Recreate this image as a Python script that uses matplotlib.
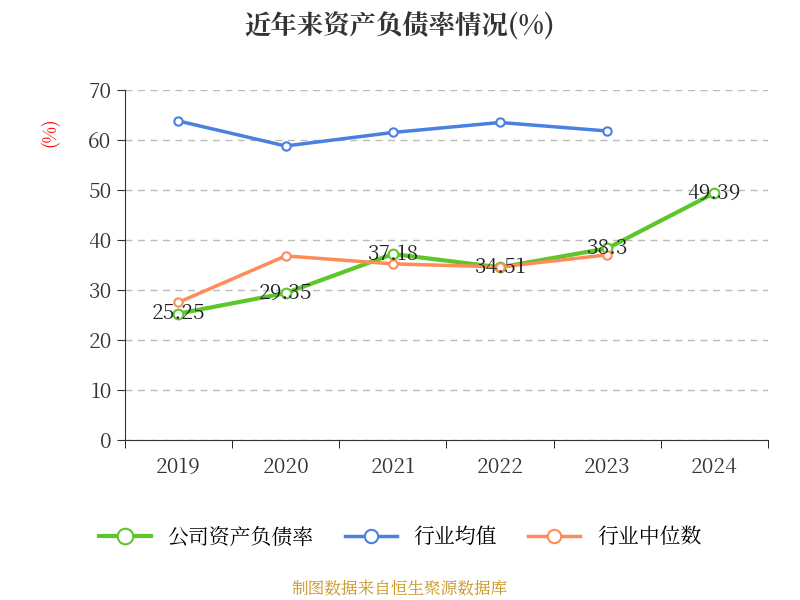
import matplotlib.pyplot as plt
from matplotlib import font_manager

# pick whichever CJK family is actually registered
cjk = [f.name for f in font_manager.fontManager.ttflist if "CJK" in f.name]
if not cjk:
    import glob
    for p in glob.glob("/usr/share/fonts/**/*CJK*", recursive=True):
        font_manager.fontManager.addfont(p)
    cjk = [f.name for f in font_manager.fontManager.ttflist if "CJK" in f.name]
sc = [n for n in cjk if "SC" in n]
plt.rcParams["font.family"] = (sc[:1] or cjk[:1]) + ["DejaVu Sans"]

years = ["2019", "2020", "2021", "2022", "2023", "2024"]
company = [25.25, 29.35, 37.18, 34.51, 38.3, 49.39]
industry_avg = [63.8, 58.8, 61.5, 63.5, 61.8]
industry_median = [27.5, 36.8, 35.2, 34.6, 37.0]

green = "#5cc62a"
blue = "#4a80e0"
orange = "#fe8c57"

fig = plt.figure(figsize=(8, 6), dpi=100)
ax = fig.add_axes([0.156, 0.267, 0.804, 0.583])

x = list(range(len(years)))
ax.plot(x, company, color=green, lw=3, marker="o", ms=7, mfc="white", mew=1.5, label="公司资产负债率", zorder=3)
ax.plot(x[:5], industry_avg, color=blue, lw=2.5, marker="o", ms=6, mfc="white", mew=1.5, label="行业均值", zorder=3)
ax.plot(x[:5], industry_median, color=orange, lw=2.5, marker="o", ms=6, mfc="white", mew=1.5, label="行业中位数", zorder=3)

for xi, v in zip(x, company):
    ax.text(xi, v, f"{v:g}", ha="center", va="center", fontsize=15, color="#222222", zorder=4)

ax.set_xlim(-0.5, 5.5)
ax.set_ylim(0, 70)
ax.set_yticks(range(0, 71, 10))
ax.set_xticks(x)
ax.set_xticklabels(years)
ax.tick_params(axis="both", labelsize=15, colors="#333333", length=6)
ax.set_xticks([i - 0.5 for i in range(7)], minor=True)
ax.tick_params(axis="x", which="major", length=0, pad=12)
ax.tick_params(axis="x", which="minor", length=6)
ax.grid(axis="y", ls=(0, (5, 4)), color="#bbbbbb", lw=1)
for s in ["top", "right"]:
    ax.spines[s].set_visible(False)
ax.spines["left"].set_color("#333333")
ax.spines["bottom"].set_color("#333333")
ax.set_ylabel("(%)", color="red", fontsize=13, labelpad=2)
ax.yaxis.set_label_coords(-0.1, 0.88)

fig.text(0.5, 0.955, "近年来资产负债率情况(%)", ha="center", va="center", fontsize=19, fontweight="bold", color="#333333")
fig.legend(loc="center", bbox_to_anchor=(0.5, 0.105), ncol=3, frameon=False, fontsize=15,
           handlelength=2.5, columnspacing=1.5, markerscale=1.6)
fig.text(0.5, 0.018, "制图数据来自恒生聚源数据库", ha="center", va="center", fontsize=12, color="#c8941e")

fig.savefig("out.png")
